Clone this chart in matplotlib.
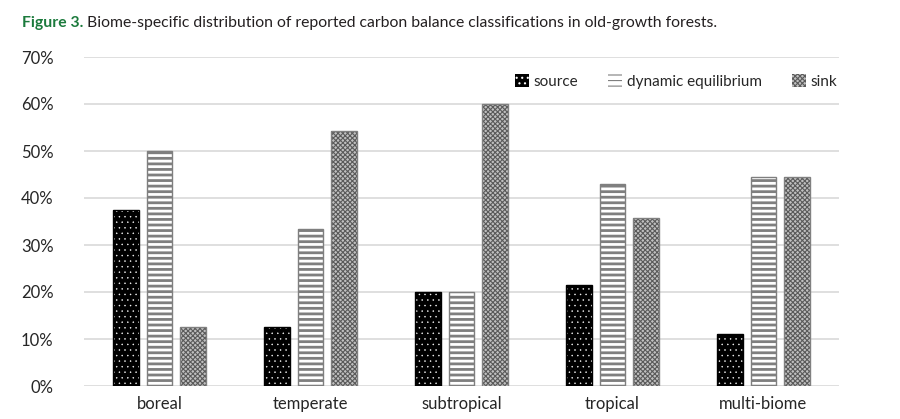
import numpy as np
import matplotlib
matplotlib.use('Agg')
import matplotlib.pyplot as plt
from matplotlib.ticker import PercentFormatter

plt.rcParams['font.family'] = ['Lato', 'DejaVu Sans']

biomes = ['boreal', 'temperate', 'subtropical', 'tropical', 'multi-biome']
source = [37.5, 12.5, 20.0, 21.4, 11.1]
dynamic_equilibrium = [50.0, 33.3, 20.0, 42.9, 44.4]
sink = [12.5, 54.2, 60.0, 35.7, 44.4]
yticks = [0, 10, 20, 30, 40, 50, 60, 70]

fig = plt.figure(figsize=(9, 4.19), dpi=100)
ax = fig.add_axes([84 / 900, 33 / 419, 755 / 900, 329 / 419])

x = np.arange(len(biomes))
w = 0.17
off = 0.22

# series: (name, values, face, hatch, hatch colour, outline colour, hatch linewidth)
styles = [
    ('source', source, 'black', '...', 'white', 'black', 0.3),
    ('dynamic equilibrium', dynamic_equilibrium, 'white', '---', '#7f7f7f', '#7f7f7f', 2.0),
    ('sink', sink, '#c0c0c0', 'xxxxxxx', '#5a5a5a', '#808080', 0.8),
]

handles = []
for i, (name, vals, face, hatch, hcol, ecol, hlw) in enumerate(styles):
    pos = x + (i - 1) * off
    plt.rcParams['hatch.linewidth'] = hlw
    b = ax.bar(pos, vals, w, color=face, hatch=hatch, edgecolor=hcol, linewidth=0, zorder=3)
    ax.bar(pos, vals, w, fill=False, edgecolor=ecol, linewidth=1.0, zorder=4)
    handles.append(b)

ax.set_xlim(-0.5, len(biomes) - 0.5)
ax.set_ylim(0, 70)
ax.set_yticks(yticks)
ax.yaxis.set_major_formatter(PercentFormatter(decimals=0))
ax.set_xticks(x)
ax.set_xticklabels(biomes)
ax.grid(axis='y', color='#d9d9d9', linewidth=1.2, zorder=0)
ax.set_axisbelow(True)
for s in ax.spines.values():
    s.set_visible(False)
ax.tick_params(axis='both', length=0, labelsize=12, labelcolor='#262626')
ax.tick_params(axis='y', pad=22)
ax.tick_params(axis='x', pad=7)

leg = ax.legend(handles, [s[0] for s in styles], ncol=3, frameon=False,
                loc='upper right', bbox_to_anchor=(1.016, 0.99), fontsize=11,
                handlelength=0.9, handleheight=0.9, handletextpad=0.3,
                columnspacing=2.0)
for t in leg.get_texts():
    t.set_color('#262626')

# caption
t1 = fig.text(22 / 900, 1 - 27 / 419, 'Figure 3.', color='#1b7a3c', fontsize=11.3,
              fontweight='bold', va='baseline')
fig.canvas.draw()
bb = t1.get_window_extent()
fig.text((bb.x1 + 4) / 900, 1 - 27 / 419,
         'Biome-specific distribution of reported carbon balance classifications in old-growth forests.',
         color='#231f20', fontsize=11.3, va='baseline')

fig.savefig('out.png', dpi=100)
